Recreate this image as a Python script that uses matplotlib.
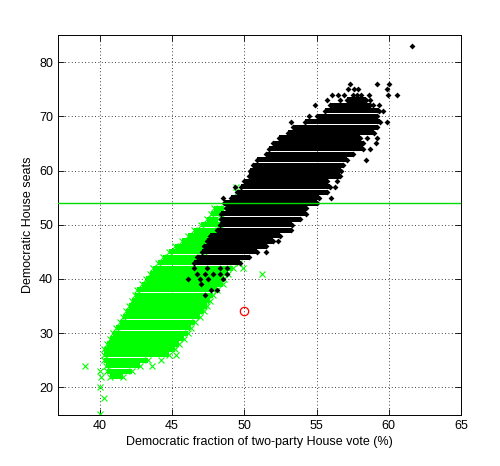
import matplotlib
matplotlib.use("Agg")
import matplotlib.pyplot as plt
import numpy as np

plt.rcParams['font.family'] = ['Liberation Sans', 'DejaVu Sans']

# black (Dem-majority) simulations: dense part of each seat row (lo, hi vote share)
black_y = [73, 72, 71, 70, 69, 68, 67, 66, 65, 64, 63, 62, 61, 60, 59, 58,
           57, 56, 55, 54, 53, 52, 51, 50, 49, 48, 47, 46, 45, 44, 43]
black_lo = [57.1, 55.9, 55.6, 55.0, 54.2, 53.4, 53.0, 52.4, 52.0, 51.7, 51.5, 50.9, 50.6, 50.4, 50.3, 50.0,
            49.8, 49.5, 49.1, 48.6, 48.7, 48.4, 48.4, 48.3, 48.1, 47.6, 47.4, 47.2, 47.1, 46.7, 46.5]
black_hi = [58.4, 58.7, 59.3, 59.2, 59.4, 59.2, 59.0, 58.0, 58.2, 58.2, 57.5, 57.1, 56.8, 56.7, 56.6, 55.7,
            55.9, 55.7, 55.2, 55.0, 54.3, 54.3, 53.85, 53.3, 53.2, 52.5, 52.0, 51.5, 50.85, 50.3, 49.7]

# scattered black outliers
black_px = [61.6, 57.3, 59.2, 60.0, 57.2, 57.6, 57.9, 59.85, 56.1, 56.5, 56.9, 57.5, 57.8, 58.1,
            58.6, 59.95, 60.6, 55.7, 56.6, 58.7, 54.9, 58.9, 59.3, 59.6, 54.5, 53.2, 59.9,
            58.5, 59.2, 59.1, 58.7, 58.4, 56.4, 49.35, 56.3, 48.5, 56.0, 52.3, 51.5,
            46.5, 47.4, 48.3, 48.8, 46.7, 47.3, 47.8, 48.3, 48.8, 46.1, 46.9, 47.5, 48.5,
            47.0, 47.7, 48.1, 47.3]
black_py = [83, 76, 76, 76, 75, 75, 75, 75, 74, 74, 74, 74, 74, 74,
            74, 74, 74, 73, 73, 73, 72, 72, 72, 71, 70, 69, 69,
            66, 66, 65, 64, 62, 58, 57, 57, 55, 55, 47, 45,
            42, 42, 42, 42, 41, 41, 41, 41, 41, 40, 40, 40, 40,
            39, 38, 38, 37]

# green (Dem-minority) simulations: dense part of each seat row
green_y = [53, 52, 51, 50, 49, 48, 47, 46, 45, 44, 43, 42, 41, 40, 39, 38,
           37, 36, 35, 34, 33, 32, 31, 30, 29, 28, 27, 26, 25, 24, 23, 22]
green_lo = [47.9, 47.7, 47.4, 47.0, 46.5, 46.1, 45.7, 45.2, 44.8, 44.4, 44.0, 43.7, 43.5, 43.2, 42.9, 42.6,
            42.4, 42.2, 42.0, 41.8, 41.6, 41.4, 41.1, 40.9, 40.7, 40.5, 40.3, 40.3, 40.3, 40.4, 40.5, 40.7]
green_hi = [48.6, 48.4, 48.2, 48.3, 48.2, 47.9, 47.6, 47.3, 47.2, 47.0, 49.6, 49.2, 48.9, 48.6, 48.5, 48.1,
            47.8, 47.6, 47.4, 47.2, 46.9, 46.6, 46.3, 46.1, 45.8, 45.5, 45.2, 44.8, 43.3, 42.8, 42.2, 41.6]

# scattered green outliers
green_px = [49.4, 49.5, 39.0, 40.0, 40.1, 40.0, 40.3, 40.0, 51.2, 49.9, 44.2, 43.6, 45.3]
green_py = [57, 56, 24, 23, 22, 20, 18, 15, 41, 42, 25, 24, 26]

threshold = 54          # seats needed for control
actual_vote, actual_seats = 50.0, 34

fig = plt.figure(figsize=(5.0, 4.66), dpi=100)
ax = fig.add_axes([0.116, 0.1094, 0.806, 0.8155])

green = '#00ff00'
row_h = 0.95

ax.barh(green_y, np.array(green_hi) - np.array(green_lo), left=green_lo,
        height=row_h, color=green, linewidth=0, zorder=2)
ax.plot(green_lo + green_hi + green_px, green_y + green_y + green_py, 'x',
        color=green, ms=4.5, mew=0.8, zorder=2)

ax.barh(black_y, np.array(black_hi) - np.array(black_lo), left=black_lo,
        height=row_h, color='k', linewidth=0, zorder=3)
ax.plot(black_lo + black_hi + black_px, black_y + black_y + black_py, 'D',
        color='k', ms=3.0, mew=0, zorder=3)

ax.axhline(threshold, color='#00dd00', lw=1.0, zorder=4)
ax.plot([actual_vote], [actual_seats], 'o', mfc='none', mec='red', ms=6, mew=0.9, zorder=5)

ax.set_xlim(37.1, 65)
ax.set_ylim(14.9, 85)
ax.set_xticks([40, 45, 50, 55, 60, 65])
ax.set_yticks([20, 30, 40, 50, 60, 70, 80])
ax.grid(True, color='k', linestyle=(0, (1, 3)), linewidth=0.6)
ax.set_axisbelow(True)
ax.tick_params(direction='in', top=True, right=True, labelsize=9, length=4, width=0.6)
for s in ax.spines.values():
    s.set_linewidth(0.7)

ax.set_xlabel('Democratic fraction of two-party House vote (%)', fontsize=9, labelpad=3)
ax.set_ylabel('Democratic House seats', fontsize=9, labelpad=4)

fig.savefig('out.png', dpi=100)
